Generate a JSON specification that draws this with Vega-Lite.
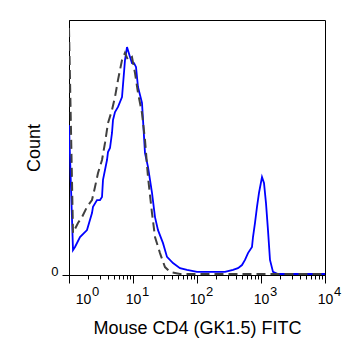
{
  "$schema": "https://vega.github.io/schema/vega-lite/v6.json",
  "width": 256,
  "height": 255,
  "autosize": {"type": "none"},
  "padding": {"left": 69, "top": 20, "right": 30, "bottom": 89},
  "config": {"view": {"stroke": "black", "strokeWidth": 1}, "font": "Liberation Sans"},
  "datasets": {
    "cd4": [
      {"x":1,"c":58.8},{"x":1.155,"c":9.8},{"x":1.241,"c":11.0},{"x":1.486,"c":14.9},{"x":1.911,"c":17.6},{"x":2.287,"c":24.3},{"x":2.371,"c":26.7},{"x":2.738,"c":29.4},{"x":3.05,"c":29.4},{"x":3.279,"c":30.6},{"x":3.398,"c":37.3},{"x":3.924,"c":45.1},{"x":4.066,"c":48.2},{"x":4.371,"c":49.8},{"x":4.698,"c":55.7},{"x":4.87,"c":60.8},{"x":5.233,"c":63.9},{"x":5.832,"c":65.9},{"x":6.734,"c":69.8},{"x":7.499,"c":84.3},{"x":8.06,"c":89.4},{"x":8.98,"c":85.5},{"x":9.64,"c":83.1},{"x":10.37,"c":83.1},{"x":11.14,"c":81.6},{"x":11.97,"c":73.7},{"x":13.82,"c":67.5},{"x":15.4,"c":47.8},{"x":17.15,"c":42.4},{"x":19.81,"c":32.2},{"x":22.07,"c":22.7},{"x":24.59,"c":17.6},{"x":29.43,"c":12.5},{"x":33.98,"c":7.1},{"x":42.17,"c":4.7},{"x":54.2,"c":2.7},{"x":69.8,"c":2.0},{"x":100,"c":1.2},{"x":159.7,"c":1.2},{"x":273.8,"c":1.2},{"x":365.2,"c":2.0},{"x":436.8,"c":2.7},{"x":504.8,"c":3.9},{"x":562.3,"c":5.9},{"x":626.6,"c":8.6},{"x":723.4,"c":11.0},{"x":749.9,"c":14.9},{"x":805.8,"c":20.4},{"x":865.9,"c":26.7},{"x":930.4,"c":32.2},{"x":1036.6,"c":38.4},{"x":1113.8,"c":36.1},{"x":1196.8,"c":28.2},{"x":1286,"c":17.6},{"x":1382,"c":5.9},{"x":1540,"c":1.2},{"x":1845,"c":0.4},{"x":4066,"c":0.4},{"x":10000,"c":0.4}
    ],
    "iso": [
      {"x":1,"c":96.9},{"x":1.155,"c":16.5},{"x":1.382,"c":20.4},{"x":1.596,"c":22.7},{"x":1.911,"c":26.7},{"x":2.287,"c":29.4},{"x":2.548,"c":34.5},{"x":2.84,"c":40.0},{"x":3.279,"c":45.1},{"x":3.652,"c":51.8},{"x":4.066,"c":59.6},{"x":4.698,"c":64.7},{"x":5.233,"c":69.8},{"x":5.832,"c":76.5},{"x":6.734,"c":84.3},{"x":7.499,"c":87.1},{"x":8.35,"c":84.3},{"x":9.64,"c":85.5},{"x":10.75,"c":79.2},{"x":11.97,"c":71.4},{"x":13.82,"c":63.5},{"x":15.4,"c":52.9},{"x":17.15,"c":38.4},{"x":19.81,"c":24.3},{"x":22.07,"c":14.9},{"x":26.4,"c":8.6},{"x":31.6,"c":3.1},{"x":37.9,"c":1.2},{"x":54.2,"c":0.4},{"x":10000,"c":0.4}
    ]
  },
  "encoding": {
    "y": {
      "field": "c", "type": "quantitative",
      "scale": {"domain": [0, 100], "nice": false, "zero": true},
      "axis": {
        "values": [0], "title": "Count", "titleFontSize": 18, "titleFontWeight": "normal", "titleColor": "black", "titlePadding": 7,
        "labelFontSize": 13, "labelColor": "black", "labelBaseline": "alphabetic", "labelPadding": 4,
        "tickSize": 7, "tickColor": "black", "domainColor": "black", "grid": false
      }
    }
  },
  "layer": [
    {
      "data": {"name": "cd4"},
      "mark": {"type": "line", "color": "#0000ff", "strokeWidth": 1.8, "clip": true},
      "encoding": {
        "x": {
          "field": "x", "type": "quantitative",
          "scale": {"type": "log", "domain": [1, 10000], "nice": false},
          "axis": {
            "orient": "bottom",
            "values": [1,2,3,4,5,6,7,8,9,10,20,30,40,50,60,70,80,90,100,200,300,400,500,600,700,800,900,1000,2000,3000,4000,5000,6000,7000,8000,9000,10000],
            "labelExpr": "indexof([1,10,100,1000,10000], datum.value) >= 0 ? '10' : ''",
            "labelOverlap": false, "labelFlush": false,
            "labelFontSize": 14, "labelColor": "black", "labelPadding": 9,
            "labelOffset": {"condition": {"test": "datum.value == 1", "value": 14}, "value": 0},
            "tickSize": {"condition": {"test": "indexof([1,10,100,1000,10000], datum.value) >= 0", "value": 8}, "value": 4},
            "tickColor": "black", "domainColor": "black", "grid": false,
            "title": "Mouse CD4 (GK1.5) FITC", "titleFontSize": 18, "titleFontWeight": "normal", "titleColor": "black", "titlePadding": 13
          }
        }
      }
    },
    {
      "data": {"name": "iso"},
      "mark": {"type": "line", "color": "#404040", "strokeWidth": 2, "strokeDash": [9, 5], "clip": true},
      "encoding": {
        "x": {"field": "x", "type": "quantitative", "scale": {"type": "log", "domain": [1, 10000], "nice": false}, "axis": null}
      }
    },
    {
      "data": {"name": "cd4"},
      "mark": {"type": "line", "opacity": 0},
      "encoding": {
        "x": {
          "field": "x", "type": "quantitative",
          "scale": {"type": "log", "domain": [1, 10000], "nice": false},
          "axis": {
            "orient": "bottom", "values": [1, 10, 100, 1000, 10000],
            "labelExpr": "indexof([1,10,100,1000,10000], datum.value) + ''",
            "labelOverlap": false, "labelFlush": false,
            "labelFontSize": 13, "labelColor": "black", "labelPadding": 10,
            "labelOffset": {"condition": {"test": "datum.value == 1", "value": 26}, "value": 12},
            "ticks": false, "tickSize": 0, "domain": false, "grid": false, "title": null
          }
        }
      }
    }
  ],
  "resolve": {"axis": {"x": "independent"}}
}
